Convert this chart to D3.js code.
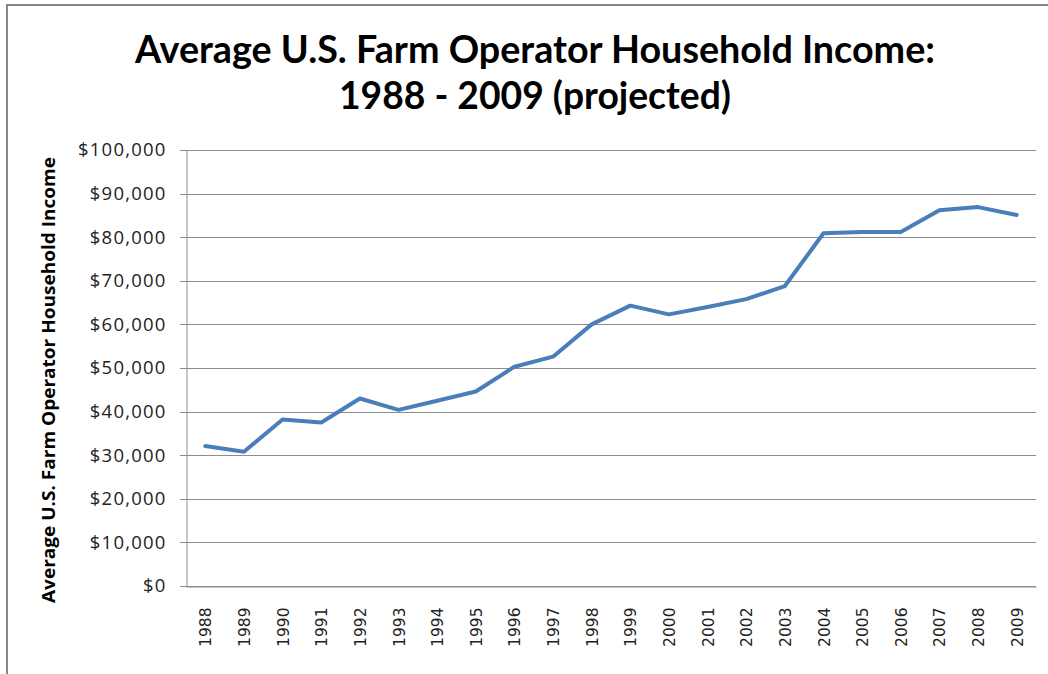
<!DOCTYPE html>
<html>
<head>
<meta charset="utf-8">
<script src="https://cdn.jsdelivr.net/npm/d3@7"></script>
<style>
  html, body { margin: 0; padding: 0; background: #fff; }
  svg { display: block; }
</style>
</head>
<body>
<svg id="chart" width="1048" height="674"></svg>
<script>
const years = ["1988","1989","1990","1991","1992","1993","1994","1995","1996","1997","1998",
               "1999","2000","2001","2002","2003","2004","2005","2006","2007","2008","2009"];
const income = [32100, 30800, 38200, 37500, 43000, 40400, 42500, 44600, 50300, 52600, 60000,
                64300, 62300, 64000, 65800, 68800, 80900, 81200, 81200, 86200, 86900, 85100];
const yTicks = [0, 10000, 20000, 30000, 40000, 50000, 60000, 70000, 80000, 90000, 100000];
const titleLines = ["Average U.S. Farm Operator Household Income:", "1988 - 2009 (projected)"];
const yAxisTitle = "Average U.S. Farm Operator Household Income";

const svg = d3.select("#chart");
const W = 1048, H = 674;
const plot = { left: 186, top: 150, right: 1036, bottom: 586 };

// outer frame
svg.append("rect")
  .attr("x", 7).attr("y", 5).attr("width", W + 20).attr("height", H + 20)
  .attr("fill", "#fff").attr("stroke", "#868686").attr("stroke-width", 2);

const x = d3.scaleBand().domain(years).range([plot.left, plot.right]);
const y = d3.scaleLinear().domain([0, 100000]).range([plot.bottom, plot.top]);

// gridlines
svg.append("g")
  .selectAll("line").data(yTicks).join("line")
  .attr("x1", plot.left - 6).attr("x2", plot.right)
  .attr("y1", d => Math.round(y(d)) + 0.5).attr("y2", d => Math.round(y(d)) + 0.5)
  .attr("stroke", "#8c8c8c").attr("stroke-width", 1);

// y axis
const yAxis = svg.append("g").attr("transform", `translate(${plot.left + 0.5},0)`)
  .call(d3.axisLeft(y).tickValues(yTicks).tickSize(0).tickPadding(20)
    .tickFormat(d => "$" + d3.format(",")(d)));
yAxis.select(".domain").attr("stroke", "#8c8c8c");
yAxis.selectAll("text")
  .attr("font-family", "'Open Sans', sans-serif").attr("font-size", 18.5)
  .attr("letter-spacing", 1.2).attr("fill", "#222");

// x axis
const xAxis = svg.append("g").attr("transform", `translate(0,${Math.round(plot.bottom) + 0.5})`)
  .call(d3.axisBottom(x).tickSize(0));
xAxis.select(".domain").attr("stroke", "#8c8c8c");
xAxis.selectAll("text")
  .attr("font-family", "'DejaVu Sans', sans-serif").attr("font-size", 15.5).attr("fill", "#222")
  .attr("text-anchor", "end")
  .attr("dy", null).attr("y", 0)
  .attr("transform", "translate(6,21) rotate(-90)");

// line
const line = d3.line().x((d, i) => x(years[i]) + x.bandwidth() / 2).y(d => y(d));
svg.append("path").datum(income)
  .attr("d", line).attr("fill", "none")
  .attr("stroke", "#4a7ebb").attr("stroke-width", 4)
  .attr("stroke-linejoin", "round").attr("stroke-linecap", "round");

// title (slightly stretched vertically to mimic a condensed face)
svg.append("g").selectAll("text").data(titleLines).join("text")
  .attr("transform", (d, i) => `translate(535,${63 + i * 46}) scale(1,1.2)`)
  .attr("text-anchor", "middle")
  .attr("font-family", "Lato, 'Open Sans', sans-serif").attr("font-weight", "bold")
  .attr("font-size", 31.5).attr("fill", "#000")
  .attr("textLength", (d, i) => i === 0 ? 800 : 392)
  .attr("lengthAdjust", "spacingAndGlyphs")
  .text(d => d);

// y axis title
svg.append("text")
  .attr("transform", "translate(55,380) rotate(-90)")
  .attr("text-anchor", "middle")
  .attr("font-family", "'Open Sans', sans-serif").attr("font-weight", "bold")
  .attr("font-size", 17.5).attr("fill", "#000")
  .attr("textLength", 446).attr("lengthAdjust", "spacingAndGlyphs")
  .text(yAxisTitle);
</script>
</body>
</html>
